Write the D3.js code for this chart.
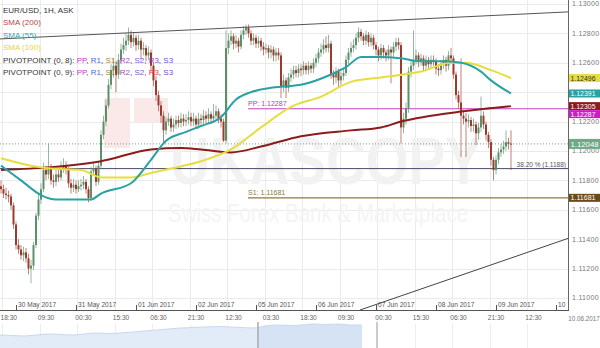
<!DOCTYPE html>
<html><head><meta charset="utf-8">
<script src="https://cdn.jsdelivr.net/npm/d3@7"></script>
<style>body{margin:0;background:#fff}svg{display:block;font-family:"Liberation Sans",Arial,sans-serif}</style>
</head><body><svg id="c" width="600" height="348"></svg>
<script>
// ---------- DATA ----------
const opens=[1.1176,1.1174,1.1171,1.1170,1.1169,1.1163,1.1150,1.1136,1.1133,1.1129,
1.1131,1.1127,1.1120,1.1122,1.1136,1.1156,1.1167,1.1174,1.1187,1.1184,
1.1188,1.1180,1.1179,1.1184,1.1182,1.1188,1.1190,1.1187,1.1178,1.1175,
1.1177,1.1174,1.1176,1.1177,1.1179,1.1174,1.1168,1.1186,1.1188,1.1179,
1.1190,1.1211,1.1220,1.1231,1.1245,1.1255,1.1258,1.1252,1.1262,1.1269,
1.1272,1.1275,1.1279,1.1274,1.1277,1.1272,1.1275,1.1269,1.1270,1.1265,
1.1267,1.1258,1.1248,1.1238,1.1231,1.1224,1.1214,1.1220,1.1222,1.1216,
1.1218,1.1221,1.1219,1.1222,1.1220,1.1221,1.1223,1.1220,1.1222,1.1218,
1.1222,1.1221,1.1224,1.1222,1.1225,1.1222,1.1224,1.1227,1.1222,1.1220,
1.1207,1.1270,1.1275,1.1278,1.1273,1.1275,1.1271,1.1279,1.1282,1.1284,
1.1280,1.1275,1.1277,1.1273,1.1275,1.1271,1.1269,1.1270,1.1267,1.1269,
1.1265,1.1267,1.1265,1.1244,1.1248,1.1243,1.1250,1.1252,1.1255,1.1253,
1.1256,1.1255,1.1258,1.1255,1.1258,1.1256,1.1260,1.1263,1.1267,1.1269,
1.1272,1.1270,1.1273,1.1252,1.1250,1.1254,1.1248,1.1251,1.1253,1.1262,
1.1267,1.1270,1.1272,1.1277,1.1281,1.1278,1.1275,1.1279,1.1274,1.1277,
1.1272,1.1269,1.1265,1.1270,1.1267,1.1265,1.1269,1.1267,1.1271,1.1274,
1.1272,1.1216,1.1222,1.1229,1.1254,1.1258,1.1262,1.1265,1.1261,1.1263,
1.1258,1.1262,1.1259,1.1262,1.1261,1.1256,1.1255,1.1259,1.1262,1.1258,
1.1265,1.1263,1.1252,1.1238,1.1233,1.1224,1.1222,1.1220,1.1221,1.1217,
1.1218,1.1212,1.1216,1.1224,1.1218,1.1211,1.1206,1.1194,1.1187,1.1194,
1.1199,1.1201,1.1203,1.1206,1.1205];
const highs=[1.1180,1.1177,1.1175,1.1173,1.1171,1.1165,1.1152,1.1140,1.1136,1.1135,
1.1134,1.1130,1.1126,1.1138,1.1158,1.1170,1.1178,1.1192,1.1190,1.1205,
1.1191,1.1184,1.1187,1.1187,1.1193,1.1195,1.1193,1.1189,1.1181,1.1181,
1.1180,1.1180,1.1181,1.1183,1.1181,1.1176,1.1189,1.1192,1.1190,1.1193,
1.1214,1.1224,1.1235,1.1249,1.1259,1.1263,1.1261,1.1266,1.1273,1.1277,
1.1280,1.1284,1.1282,1.1281,1.1279,1.1279,1.1277,1.1274,1.1272,1.1271,
1.1269,1.1260,1.1251,1.1241,1.1234,1.1227,1.1223,1.1226,1.1224,1.1222,
1.1224,1.1224,1.1226,1.1225,1.1225,1.1227,1.1226,1.1226,1.1224,1.1226,
1.1225,1.1228,1.1227,1.1229,1.1227,1.1232,1.1231,1.1229,1.1225,1.1222,
1.1282,1.1280,1.1282,1.1280,1.1279,1.1277,1.1282,1.1285,1.1286,1.1286,
1.1282,1.1280,1.1279,1.1278,1.1277,1.1274,1.1273,1.1272,1.1272,1.1271,
1.1270,1.1270,1.1267,1.1252,1.1250,1.1253,1.1256,1.1258,1.1258,1.1259,
1.1259,1.1261,1.1260,1.1261,1.1260,1.1263,1.1266,1.1270,1.1273,1.1276,
1.1278,1.1279,1.1275,1.1255,1.1257,1.1256,1.1254,1.1256,1.1265,1.1270,
1.1274,1.1276,1.1280,1.1284,1.1283,1.1280,1.1282,1.1281,1.1280,1.1279,
1.1274,1.1271,1.1273,1.1272,1.1269,1.1272,1.1271,1.1274,1.1277,1.1277,
1.1274,1.1226,1.1233,1.1257,1.1262,1.1282,1.1269,1.1267,1.1266,1.1265,
1.1265,1.1264,1.1265,1.1265,1.1263,1.1259,1.1262,1.1265,1.1264,1.1268,
1.1270,1.1265,1.1254,1.1241,1.1263,1.1228,1.1226,1.1225,1.1223,1.1222,
1.1220,1.1219,1.1237,1.1227,1.1220,1.1213,1.1208,1.1196,1.1197,1.1202,
1.1205,1.1207,1.1214,1.1209,1.1214];
const lows=[1.1171,1.1168,1.1167,1.1165,1.1160,1.1147,1.1133,1.1130,1.1126,1.1125,
1.1124,1.1116,1.1110,1.1119,1.1134,1.1153,1.1164,1.1172,1.1180,1.1181,
1.1177,1.1175,1.1176,1.1179,1.1180,1.1185,1.1184,1.1175,1.1171,1.1172,
1.1171,1.1172,1.1173,1.1174,1.1171,1.1165,1.1166,1.1183,1.1176,1.1177,
1.1188,1.1208,1.1217,1.1229,1.1242,1.1250,1.1240,1.1249,1.1259,1.1266,
1.1268,1.1272,1.1270,1.1271,1.1268,1.1269,1.1262,1.1265,1.1261,1.1262,
1.1254,1.1244,1.1234,1.1227,1.1219,1.1205,1.1211,1.1217,1.1213,1.1213,
1.1215,1.1216,1.1216,1.1217,1.1217,1.1218,1.1217,1.1217,1.1215,1.1215,
1.1218,1.1218,1.1219,1.1219,1.1219,1.1219,1.1221,1.1219,1.1216,1.1206,
1.1205,1.1266,1.1272,1.1269,1.1270,1.1267,1.1269,1.1276,1.1279,1.1277,
1.1272,1.1272,1.1270,1.1270,1.1268,1.1265,1.1266,1.1263,1.1263,1.1261,
1.1261,1.1262,1.1236,1.1240,1.1236,1.1240,1.1247,1.1249,1.1250,1.1250,
1.1251,1.1252,1.1252,1.1252,1.1253,1.1253,1.1257,1.1260,1.1264,1.1266,
1.1267,1.1267,1.1249,1.1245,1.1246,1.1243,1.1245,1.1248,1.1251,1.1259,
1.1264,1.1267,1.1269,1.1274,1.1275,1.1272,1.1272,1.1271,1.1271,1.1269,
1.1265,1.1261,1.1262,1.1263,1.1261,1.1262,1.1246,1.1264,1.1268,1.1269,
1.1205,1.1212,1.1218,1.1226,1.1250,1.1255,1.1259,1.1257,1.1258,1.1254,
1.1255,1.1256,1.1256,1.1258,1.1252,1.1251,1.1252,1.1256,1.1254,1.1255,
1.1259,1.1249,1.1235,1.1229,1.1196,1.1218,1.1196,1.1216,1.1213,1.1213,
1.1204,1.1208,1.1213,1.1215,1.1207,1.1202,1.1190,1.1180,1.1184,1.1191,
1.1196,1.1198,1.1200,1.1201,1.1187];
const closes=[1.1174,1.1171,1.1170,1.1169,1.1163,1.1150,1.1136,1.1133,1.1129,1.1131,
1.1127,1.1120,1.1122,1.1136,1.1156,1.1167,1.1174,1.1187,1.1184,1.1188,
1.1180,1.1179,1.1184,1.1182,1.1188,1.1190,1.1187,1.1178,1.1175,1.1177,
1.1174,1.1176,1.1177,1.1179,1.1174,1.1168,1.1186,1.1188,1.1179,1.1190,
1.1211,1.1220,1.1231,1.1245,1.1255,1.1258,1.1252,1.1262,1.1269,1.1272,
1.1275,1.1279,1.1274,1.1277,1.1272,1.1275,1.1269,1.1270,1.1265,1.1267,
1.1258,1.1248,1.1238,1.1231,1.1224,1.1214,1.1220,1.1222,1.1216,1.1218,
1.1221,1.1219,1.1222,1.1220,1.1221,1.1223,1.1220,1.1222,1.1218,1.1222,
1.1221,1.1224,1.1222,1.1225,1.1222,1.1224,1.1227,1.1222,1.1220,1.1207,
1.1270,1.1275,1.1278,1.1273,1.1275,1.1271,1.1279,1.1282,1.1284,1.1280,
1.1275,1.1277,1.1273,1.1275,1.1271,1.1269,1.1270,1.1267,1.1269,1.1265,
1.1267,1.1265,1.1244,1.1248,1.1243,1.1250,1.1252,1.1255,1.1253,1.1256,
1.1255,1.1258,1.1255,1.1258,1.1256,1.1260,1.1263,1.1267,1.1269,1.1272,
1.1270,1.1273,1.1252,1.1250,1.1254,1.1248,1.1251,1.1253,1.1262,1.1267,
1.1270,1.1272,1.1277,1.1281,1.1278,1.1275,1.1279,1.1274,1.1277,1.1272,
1.1269,1.1265,1.1270,1.1267,1.1265,1.1269,1.1267,1.1271,1.1274,1.1272,
1.1216,1.1222,1.1229,1.1254,1.1258,1.1262,1.1265,1.1261,1.1263,1.1258,
1.1262,1.1259,1.1262,1.1261,1.1256,1.1255,1.1259,1.1262,1.1258,1.1265,
1.1263,1.1252,1.1238,1.1233,1.1224,1.1222,1.1220,1.1221,1.1217,1.1218,
1.1212,1.1216,1.1224,1.1218,1.1211,1.1206,1.1194,1.1187,1.1194,1.1199,
1.1201,1.1203,1.1206,1.1205,1.12048];

// moving averages (candle index, value)
const sma200Idx=[0,20,40,60,72,80,92,104,120,140,152,160,185,204];
const sma200Val=[1.1187,1.1189,1.1193,1.1201,1.1202,1.1201,1.1199,1.1203,1.1210,1.1214,1.1216,1.1220,1.1227,1.12305];
const sma55Idx=[0,8,16,22,36,40,52,60,66,74,80,88,94,100,108,114,120,132,138,144,152,160,168,176,184,192,196,204];
const sma55Val=[1.1190,1.1180,1.1170,1.1167,1.1167,1.1171,1.1178,1.1194,1.1207,1.1213,1.1217,1.1223,1.1235,1.1240,1.1243,1.1244,1.1245,1.1252,1.1257,1.1264,1.1264,1.1263,1.1261,1.1261,1.1260,1.1254,1.1248,1.12391];
const sma100Idx=[0,12,20,32,40,44,52,60,68,80,92,104,116,128,140,152,168,180,186,196,204];
const sma100Val=[1.1195,1.1190,1.1188,1.1187,1.1182,1.1182,1.1182,1.1185,1.1188,1.1193,1.1201,1.1216,1.1230,1.1237,1.1247,1.1250,1.1254,1.1260,1.1260,1.1255,1.12496];

// trend lines: [startIdx, startPrice, endIdx, endPrice]
const upperTrend=[-0.4,1.12762,226.8,1.12946];
const lowerTrend=[143.6,1.10918,226.8,1.11405];

// pivot / level lines
const ppLevel=1.12287, s1Level=1.11681, fibLevel=1.1188, lastPrice=1.12048;
const pivotStartIdx=98.8;

// axis labels
const priceTicks=[1.110,1.112,1.114,1.116,1.118,1.120,1.122,1.124,1.126,1.128,1.130];
const dateLabels=["30 May 2017","31 May 2017","01 Jun 2017","02 Jun 2017","05 Jun 2017","06 Jun 2017","07 Jun 2017","08 Jun 2017","09 Jun 2017","10"];
const dateIdx=[6,30,54,78,102,126,150,174,198,222];
const timeLabels=["18:30","09:30","00:30","15:30","06:30","21:30","12:30","03:30","18:30","09:30","00:30","15:30","06:30","21:30","12:30"];
const timeIdx=[0.5,15.5,30.5,45.5,60.5,75.5,90.5,105.5,120.5,135.5,150.5,165.5,180.5,195.5,210.5];

// right-side value tags
const tagValues=[1.12496,1.12391,1.12305,1.12287,1.12048,1.11681];
const tagColors=["#e6de3c","#2aa2a4","#8c1c1c","#d418c8","#6fa884","#6b4a1c"];
const tagText=["#333","#fff","#fff","#fff","#fff","#fff"];

// navigator history
const navVals=[1.0871,1.0857,1.0843,1.0871,1.0900,1.0886,1.0871,1.0900,1.0929,1.0914,1.0929,1.0957,1.0986,1.1014,1.1043,1.1071,1.1086,1.1100,1.1114,1.1100,1.1086,1.1071,1.1129,1.1157,1.1143,1.1157,1.1186,1.1171,1.1186,1.1157,1.1157];

// ---------- DRAW ----------
const svg=d3.select('#c');
const W=568,H=310;
const x=d3.scaleLinear().domain([-0.4,226.8]).range([0,W]);
const y=d3.scaleLinear().domain([1.10918,1.13027]).range([H,0]);

// background grid
const grid=svg.append('g');
grid.selectAll('.hg').data(priceTicks).enter().append('line')
 .attr('x1',0).attr('x2',W).attr('y1',d=>Math.round(y(d))+0.5).attr('y2',d=>Math.round(y(d))+0.5)
 .attr('stroke','#ebebeb');
grid.selectAll('.vg').data(timeIdx).enter().append('line')
 .attr('x1',d=>Math.round(x(d))+0.5).attr('x2',d=>Math.round(x(d))+0.5).attr('y1',0).attr('y2',H)
 .attr('stroke','#ebebeb');

// watermark
const wm=svg.append('g');
wm.append('rect').attr('x',104).attr('y',98).attr('width',26).attr('height',50).attr('fill','#fbe8e8');
wm.append('rect').attr('x',134).attr('y',98).attr('width',34).attr('height',24).attr('fill','#fbe8e8');
wm.append('text').attr('x',170).attr('y',184).attr('font-size',66).attr('font-weight','bold')
 .attr('fill','#f2f2f2').attr('textLength',312).attr('lengthAdjust','spacingAndGlyphs').text('UKASCOPY');
wm.append('text').attr('x',318).attr('y',222).attr('text-anchor','middle').attr('font-size',26)
 .attr('fill','#f4f4f4').attr('textLength',300).attr('lengthAdjust','spacingAndGlyphs').text('Swiss Forex Bank & Marketplace');

// level lines
svg.append('line').attr('x1',0).attr('x2',W).attr('y1',y(lastPrice)).attr('y2',y(lastPrice))
 .attr('stroke','#6fa884').attr('stroke-dasharray','1,2');
svg.append('line').attr('x1',0).attr('x2',W).attr('y1',y(fibLevel)).attr('y2',y(fibLevel))
 .attr('stroke','#4a4a6a').attr('stroke-width',1);
svg.append('text').attr('x',W-2).attr('y',y(fibLevel)-2).attr('text-anchor','end').attr('font-size',6.5)
 .attr('fill','#555').text('38.20 % (1.1188)');
svg.append('line').attr('x1',x(pivotStartIdx)).attr('x2',W).attr('y1',y(ppLevel)).attr('y2',y(ppLevel))
 .attr('stroke','#c040c0');
svg.append('text').attr('x',x(pivotStartIdx)).attr('y',y(ppLevel)-3).attr('font-size',7)
 .attr('fill','#b040b0').text('PP: 1.12287');
svg.append('line').attr('x1',x(pivotStartIdx)).attr('x2',W).attr('y1',y(s1Level)).attr('y2',y(s1Level))
 .attr('stroke','#8a7a40').attr('stroke-width',1.2);
svg.append('text').attr('x',x(pivotStartIdx)).attr('y',y(s1Level)-3).attr('font-size',7)
 .attr('fill','#8a7a40').text('S1: 1.11681');

// candles
const idx=d3.range(closes.length);
const cg=svg.append('g');
const col=i=>closes[i]>=opens[i]?'#5b9069':'#9c3a2c';
cg.selectAll('.w').data(idx).enter().append('line')
 .attr('x1',i=>x(i)).attr('x2',i=>x(i)).attr('y1',i=>y(highs[i])).attr('y2',i=>y(lows[i]))
 .attr('stroke',i=>col(i)).attr('stroke-opacity',0.8).attr('stroke-width',0.8);
cg.selectAll('.b').data(idx).enter().append('rect')
 .attr('x',i=>x(i)-1).attr('width',2)
 .attr('y',i=>y(Math.max(opens[i],closes[i])))
 .attr('height',i=>Math.max(1,Math.abs(y(opens[i])-y(closes[i]))))
 .attr('fill',i=>col(i));

// moving averages
const line=d3.line().curve(d3.curveMonotoneX);
function drawMA(ix,vals,color){
  svg.append('path').attr('d',line(ix.map((d,k)=>[x(d),y(vals[k])])))
   .attr('fill','none').attr('stroke',color).attr('stroke-width',2);
}
drawMA(sma200Idx,sma200Val,'#8c1c1c');
drawMA(sma100Idx,sma100Val,'#e6de3c');
drawMA(sma55Idx,sma55Val,'#2aa2a4');

// trend lines
svg.append('line').attr('x1',x(upperTrend[0])).attr('y1',y(upperTrend[1])).attr('x2',x(upperTrend[2])).attr('y2',y(upperTrend[3]))
 .attr('stroke','#555').attr('stroke-width',1);
svg.append('line').attr('x1',x(lowerTrend[0])).attr('y1',y(lowerTrend[1])).attr('x2',x(lowerTrend[2])).attr('y2',y(lowerTrend[3]))
 .attr('stroke','#444').attr('stroke-width',1);

// axes
svg.append('line').attr('x1',W+0.5).attr('x2',W+0.5).attr('y1',0).attr('y2',H).attr('stroke','#666');
svg.append('line').attr('x1',0).attr('x2',W+1).attr('y1',H+0.5).attr('y2',H+0.5).attr('stroke','#555');
svg.selectAll('.pt').data(priceTicks).enter().append('text')
 .attr('x',W+4).attr('y',d=>y(d)+2.5).attr('font-size',7).attr('fill','#777').attr('letter-spacing',0.3)
 .text(d=>d3.format('.5f')(d));
const dg=svg.append('g');
dg.selectAll('line').data(dateIdx).enter().append('line')
 .attr('x1',d=>Math.round(x(d))+0.5).attr('x2',d=>Math.round(x(d))+0.5).attr('y1',H-5).attr('y2',H).attr('stroke','#555');
dg.selectAll('text').data(dateLabels).enter().append('text')
 .attr('x',(d,k)=>x(dateIdx[k])+2).attr('y',H-3.5).attr('font-size',6.6).attr('fill','#555').text(d=>d);
svg.selectAll('.tl').data(timeLabels).enter().append('text')
 .attr('x',(d,k)=>Math.max(0.5,x(timeIdx[k])-2)).attr('y',H+10).attr('font-size',6.6).attr('fill','#666').text(d=>d);
svg.append('text').attr('x',584).attr('y',H+10.5).attr('text-anchor','middle').attr('font-size',6.3).attr('fill','#777').text('10.06.2017');

// navigator
const nx=d3.scaleLinear().domain([0,navVals.length-1]).range([0,362]);
const ny=d3.scaleLinear().domain([1.05,1.13]).range([348,320]);
const defs=svg.append('defs');
defs.append('clipPath').attr('id','navL').append('rect').attr('x',0).attr('y',318).attr('width',258).attr('height',30);
defs.append('clipPath').attr('id','navR').append('rect').attr('x',258).attr('y',318).attr('width',120).attr('height',30);
const area=d3.area().x((d,k)=>nx(k)).y0(348).y1(d=>ny(d)).curve(d3.curveMonotoneX);
svg.selectAll('.ng').data(timeIdx).enter().append('line')
 .attr('x1',d=>Math.round(x(d))+0.5).attr('x2',d=>Math.round(x(d))+0.5).attr('y1',324).attr('y2',348).attr('stroke','#eeeeee');
svg.append('path').attr('d',area(navVals)).attr('fill','#e2ebf8').attr('clip-path','url(#navL)');
svg.append('path').attr('d',area(navVals)).attr('fill','#d6e3f5').attr('clip-path','url(#navR)');
svg.append('path').attr('d',d3.line().x((d,k)=>nx(k)).y(d=>ny(d)).curve(d3.curveMonotoneX)(navVals))
 .attr('fill','none').attr('stroke','#c9d8ef');
svg.append('line').attr('x1',258).attr('x2',258).attr('y1',322).attr('y2',348).attr('stroke','#aaa').attr('stroke-width',1.5);
svg.append('line').attr('x1',377).attr('x2',377).attr('y1',322).attr('y2',348).attr('stroke','#bbb').attr('stroke-width',1.5);

// value tags with overlap avoidance
const tags=tagValues.map((v,k)=>({v,k,h:k===4?10:8,y:y(v)})).sort((a,b)=>a.y-b.y);
for(let k=1;k<tags.length;k++){const p=tags[k-1],c=tags[k];const m=p.y+(p.h+c.h)/2;if(c.y<m)c.y=m;}
const tg=svg.append('g');
tags.forEach(t=>{
  tg.append('rect').attr('x',W+1).attr('y',t.y-t.h/2).attr('width',600-W-1).attr('height',t.h).attr('fill',tagColors[t.k]);
  tg.append('text').attr('x',W+2.5).attr('y',t.y+(t.k===4?3:2.5)).attr('font-size',t.k===4?8:7)
   .attr('textLength',t.k===4?28:25).attr('lengthAdjust','spacingAndGlyphs')
   .attr('fill',tagText[t.k]).text(d3.format('.5f')(t.v));
});

// legend
const lg=svg.append('g').attr('font-size',8);
const legendRows=[
 [["EUR/USD, 1H, ASK","#333"]],
 [["SMA (200)","#b24a48"]],
 [["SMA (55)","#36a6ae"]],
 [["SMA (100)","#e2d832"]],
 [["PIVOTPOINT (0, 8): ","#333"],["PP","#c23cc4"],[", ","#333"],["R1","#4a6cc4"],[", ","#333"],["S1","#a08444"],[", ","#333"],["R2","#a04cb0"],[", ","#333"],["S2","#7a5ad2"],[", ","#333"],["R3","#8a4cc4"],[", ","#333"],["S3","#7650d0"]],
 [["PIVOTPOINT (0, 9): ","#333"],["PP","#c23cc4"],[", ","#333"],["R1","#4a6cc4"],[", ","#333"],["S1","#a08444"],[", ","#333"],["R2","#a04cb0"],[", ","#333"],["S2","#7a5ad2"],[", ","#333"],["R3","#d04a3a"],[", ","#333"],["S3","#7650d0"]]
];
legendRows.forEach((row,r)=>{
  const t=lg.append('text').attr('x',3).attr('y',13+r*12.4).attr('xml:space','preserve');
  row.forEach(([s,c])=>t.append('tspan').attr('fill',c).text(s));
});
</script></body></html>
